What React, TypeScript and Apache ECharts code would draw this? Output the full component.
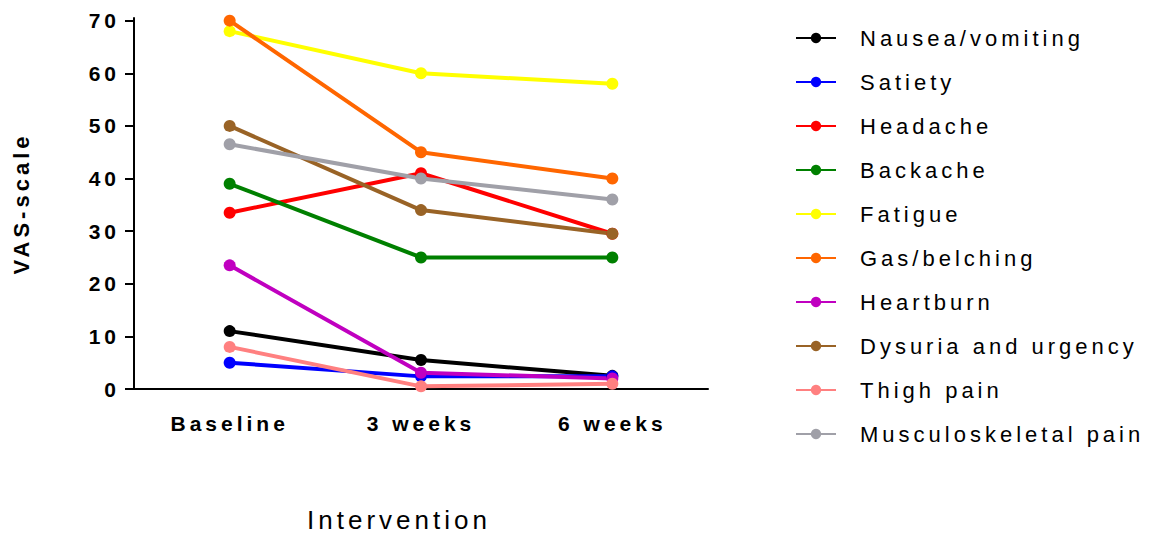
import React, { useEffect, useRef } from 'react';
import * as echarts from 'echarts';

const categories = ['Baseline', '3 weeks', '6 weeks'];
const yTicks = [0, 10, 20, 30, 40, 50, 60, 70];

const seriesNames = [
  'Nausea/vomiting',
  'Satiety',
  'Headache',
  'Backache',
  'Fatigue',
  'Gas/belching',
  'Heartburn',
  'Dysuria and urgency',
  'Thigh pain',
  'Musculoskeletal pain',
];
const nausea = [11, 5.5, 2.5];
const satiety = [5, 2.4, 2.4];
const headache = [33.5, 41, 29.5];
const backache = [39, 25, 25];
const fatigue = [68, 60, 58];
const gasBelching = [70, 45, 40];
const heartburn = [23.5, 3.1, 2];
const dysuria = [50, 34, 29.5];
const thighPain = [8, 0.5, 1];
const musculoskeletal = [46.5, 40, 36];

const seriesValues = [nausea, satiety, headache, backache, fatigue, gasBelching, heartburn, dysuria, thighPain, musculoskeletal];
const colors = ['#000000', '#0000FF', '#FF0000', '#008000', '#FFFF00', '#FF6600', '#C000C0', '#996326', '#FF8080', '#A0A0A8'];

const FONT = '"Liberation Sans", Arial, Helvetica, sans-serif';

export default function App() {
  const ref = useRef<HTMLDivElement>(null);
  useEffect(() => {
    if (!ref.current) return;
    const chart = echarts.init(ref.current, null, { renderer: 'svg' });
    chart.setOption({
      animation: false,
      backgroundColor: '#ffffff',
      textStyle: { fontFamily: FONT },
      grid: { left: 134, right: 450, top: 18, bottom: 144, containLabel: false },
      legend: {
        orient: 'vertical',
        left: 790,
        top: 21,
        itemWidth: 40,
        itemHeight: 13,
        itemGap: 20,
        data: seriesNames,
        textStyle: { fontSize: 22, color: '#000', fontFamily: FONT, padding: [0, 0, 0, 19], lineHeight: 24 },
      },
      xAxis: {
        type: 'category',
        data: categories,
        boundaryGap: true,
        axisLine: { lineStyle: { color: '#000', width: 2 } },
        axisTick: { alignWithLabel: true, length: 9, lineStyle: { color: '#000', width: 2 } },
        axisLabel: { color: '#000', fontSize: 21, fontWeight: 'bold', margin: 24, fontFamily: FONT },
        name: 'Intervention',
        nameLocation: 'middle',
        nameGap: 118,
        nameTextStyle: { fontSize: 26, color: '#000', fontFamily: FONT, padding: [0, 44, 0, 0] },
        splitLine: { show: false },
      },
      yAxis: {
        type: 'value',
        min: 0,
        max: 70.5,
        interval: 10,
        axisLine: { show: true, lineStyle: { color: '#000', width: 2 } },
        axisTick: { show: true, length: 9, customValues: yTicks, lineStyle: { color: '#000', width: 2 } },
        axisLabel: { color: '#000', fontSize: 21, fontWeight: 'bold', margin: 14, customValues: yTicks, fontFamily: FONT },
        splitLine: { show: false },
        name: 'VAS-scale',
        nameLocation: 'middle',
        nameGap: 102,
        nameTextStyle: { fontSize: 22, fontWeight: 'bold', color: '#000', fontFamily: FONT },
      },
      series: seriesNames.map((name, i) => ({
        name,
        type: 'line',
        data: seriesValues[i],
        symbol: 'circle',
        symbolSize: 12,
        color: colors[i],
        itemStyle: { color: colors[i] },
        lineStyle: { color: colors[i], width: 4 },
      })),
    });
    return () => chart.dispose();
  }, []);
  return (
    <div
      ref={ref}
      style={{ position: 'fixed', left: 0, top: 0, width: 1158, height: 538, letterSpacing: '4px', background: '#fff' }}
    />
  );
}
